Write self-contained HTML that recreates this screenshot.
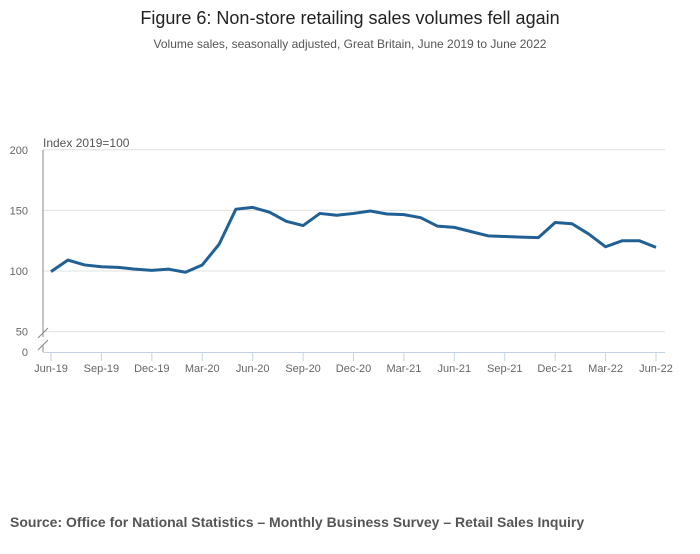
<!DOCTYPE html>
<html><head><meta charset="utf-8"><style>
body{margin:0;background:#fff;width:700px;height:549px;overflow:hidden;font-family:"Liberation Sans",sans-serif}
svg text{font-family:"Liberation Sans",sans-serif}
</style></head><body>
<svg id="chart" width="700" height="549" xmlns="http://www.w3.org/2000/svg">
<text x="350" y="24" text-anchor="middle" font-size="18" fill="#222">Figure 6: Non-store retailing sales volumes fell again</text>
<text x="350" y="48" text-anchor="middle" font-size="12" fill="#555">Volume sales, seasonally adjusted, Great Britain, June 2019 to June 2022</text>
<text x="43" y="147" font-size="12" fill="#555">Index 2019=100</text>
<g id="grid"></g><g id="axes"></g><g id="series"></g>
<text x="10" y="527" font-size="14" font-weight="bold" fill="#555">Source: Office for National Statistics – Monthly Business Survey – Retail Sales Inquiry</text>
</svg>
<script>
const months=["Jun-19","Jul-19","Aug-19","Sep-19","Oct-19","Nov-19","Dec-19","Jan-20","Feb-20","Mar-20","Apr-20","May-20","Jun-20","Jul-20","Aug-20","Sep-20","Oct-20","Nov-20","Dec-20","Jan-21","Feb-21","Mar-21","Apr-21","May-21","Jun-21","Jul-21","Aug-21","Sep-21","Oct-21","Nov-21","Dec-21","Jan-22","Feb-22","Mar-22","Apr-22","May-22","Jun-22"];
const values=[99.5,109,105,103.5,103,101.5,100.5,101.5,99,105,122,151,152.5,148.5,141,137.5,147.5,146,147.5,149.5,147,146.5,144,137,136,132.5,129,128.5,128,127.5,140,139,130.5,120,125,125,119.5];
const yTicks=[50,100,150,200];
const NS="http://www.w3.org/2000/svg";
const x0=51,x1=656,left=43,right=665;
const xs=i=>x0+(x1-x0)*i/(months.length-1);
const ys=v=>271-(v-100)*1.212;
function mk(t,a,p){const e=document.createElementNS(NS,t);for(const k in a)e.setAttribute(k,a[k]);p.appendChild(e);return e;}
const grid=document.getElementById('grid'),axes=document.getElementById('axes'),series=document.getElementById('series');
yTicks.forEach(v=>{
 const l=mk('line',{x1:left,x2:right,y1:ys(v),y2:ys(v),stroke:'#e0e0e0','stroke-width':1},grid);
 
 
 const t=mk('text',{x:28,y:ys(v)+4,'text-anchor':'end','font-size':11,fill:'#666'},grid);
 t.textContent=v;
 
 
});
const z=mk('text',{x:28,y:356,'text-anchor':'end','font-size':11,fill:'#666'},grid);z.textContent='0';


const ya=mk('path',{d:`M${left} 150V337M${left} 345V352M38 338L48 328M38 350L48 340`,stroke:'#888','stroke-width':1,fill:'none'},axes);


const xa=mk('line',{x1:left,x2:right,y1:352.5,y2:352.5,stroke:'#c4d2e6','stroke-width':1},axes);


months.forEach((m,i)=>{if(i%3)return;
 const tk=mk('line',{x1:xs(i),x2:xs(i),y1:352,y2:361,stroke:'#c4d2e6'},axes);
 
 
 const t=mk('text',{x:xs(i),y:372,'text-anchor':'middle','font-size':11,fill:'#666'},axes);t.textContent=m;
 
 
});
const p=mk('polyline',{points:values.map((v,i)=>xs(i)+','+ys(v)).join(' '),fill:'none',stroke:'#206095','stroke-width':3,'stroke-linejoin':'round'},series);


</script>
</body></html>
